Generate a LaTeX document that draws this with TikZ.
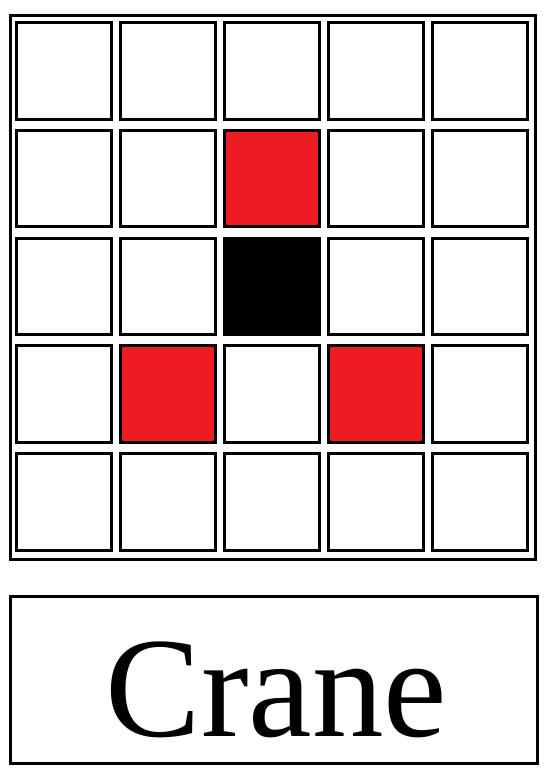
\documentclass[tikz,border=0pt]{standalone}
\usepackage{fontspec}
\setmainfont{Liberation Serif}
\usetikzlibrary{positioning}
\definecolor{cranered}{HTML}{ED1C24}

\begin{document}
\begin{tikzpicture}[x=1pt,y=-1pt,
        cell/.style={draw,line width=3pt,minimum width=95pt,minimum height=96.5pt,inner sep=0pt,outer sep=0pt}]
        \useasboundingbox (0,0) rectangle (552,777);
        % outer frame of the grid
        \draw[line width=3pt] (10.5,15.5) rectangle (535.5,559.5);

        \foreach \r in {1,...,5}
            \foreach \c in {1,...,5}{
                \def\cellfill{white}
                \ifnum\r\c=23 \def\cellfill{cranered}\fi
                \ifnum\r\c=42 \def\cellfill{cranered}\fi
                \ifnum\r\c=44 \def\cellfill{cranered}\fi
                \ifnum\r\c=33 \def\cellfill{black}\fi
                \node[cell,fill=\cellfill] (c\r\c) at ({64+104*(\c-1)},{70.75+107.75*(\r-1)}) {};
            }

        % label
        \node[draw,line width=3pt,minimum width=527pt,minimum height=167pt,inner sep=0pt] (labelbox) at (274,680) {};
        \node[anchor=base,inner sep=0pt] (name) at (276.5,736) {\fontsize{143}{143}\selectfont Crane};
    \end{tikzpicture}
\end{document}
